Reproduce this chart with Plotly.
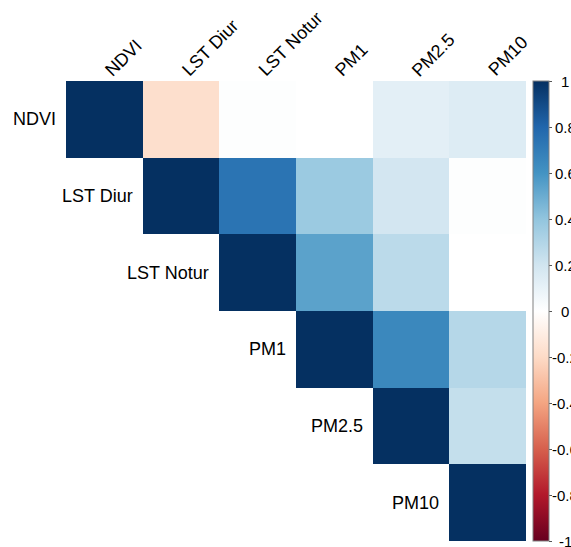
import plotly.graph_objects as go

# Variables in the correlation matrix
variables = ["NDVI", "LST Diur", "LST Notur", "PM1", "PM2.5", "PM10"]

# Upper-triangle correlation coefficients, one list per row (None = lower triangle)
row_ndvi = [1.00, -0.18, 0.01, 0.00, 0.12, 0.15]
row_lst_diur = [None, 1.00, 0.74, 0.37, 0.19, 0.01]
row_lst_notur = [None, None, 1.00, 0.54, 0.27, 0.00]
row_pm1 = [None, None, None, 1.00, 0.65, 0.29]
row_pm25 = [None, None, None, None, 1.00, 0.24]
row_pm10 = [None, None, None, None, None, 1.00]

# Colour legend tick values and their labels
cbar_ticks = [1, 0.8, 0.6, 0.4, 0.2, 0, -0.2, -0.4, -0.6, -0.8, -1]
cbar_labels = ["1", "0.8", "0.6", "0.4", "0.2", "0", "-0.2", "-0.4", "-0.6", "-0.8", "-1"]

z = [row_ndvi, row_lst_diur, row_lst_notur, row_pm1, row_pm25, row_pm10]

# Diverging red-white-blue palette
rdbu = ["#67001F", "#B2182B", "#D6604D", "#F4A582", "#FDDBC7", "#FFFFFF",
        "#D1E5F0", "#92C5DE", "#4393C3", "#2166AC", "#053061"]
colorscale = [[i / (len(rdbu) - 1), c] for i, c in enumerate(rdbu)]

FONT = "Liberation Sans, Arial, sans-serif"
W, H = 571, 547
ML, MR, MT, MB = 66, 45, 81, 6
plot_w = W - ML - MR

n = len(variables)
fig = go.Figure(go.Heatmap(
    z=z,
    x=list(range(n)),
    y=list(range(n)),
    zmin=-1, zmax=1,
    colorscale=colorscale,
    hoverongaps=False,
    colorbar=dict(
        x=(533 - ML) / plot_w, xanchor="left",
        y=0.5, yanchor="middle",
        len=1.0, lenmode="fraction",
        thickness=16,
        outlinewidth=1, outlinecolor="#808080",
        ticks="outside", ticklen=3, tickcolor="#555555", tickwidth=1,
        tickvals=cbar_ticks,
        showticklabels=False,
        xpad=0, ypad=0,
    ),
))

annotations = []
# Row labels on the left of the diagonal cells
for i, name in enumerate(variables):
    annotations.append(dict(
        x=i - 0.5, y=i, xref="x", yref="y",
        text=name, showarrow=False, xanchor="right", yanchor="middle",
        xshift=-8, font=dict(family=FONT, size=18, color="black"),
    ))
# Column labels along the top, rotated
for j, name in enumerate(variables):
    annotations.append(dict(
        x=j, y=-0.5, xref="x", yref="y",
        text=name, showarrow=False, textangle=-45,
        xanchor="left", yanchor="bottom",
        xshift=-6, yshift=-2,
        font=dict(family=FONT, size=18, color="black"),
    ))
# Colour legend labels
for v, lab in zip(cbar_ticks, cbar_labels):
    annotations.append(dict(
        x=(565 - ML) / plot_w, y=(v + 1) / 2, xref="paper", yref="paper",
        text=lab, showarrow=False, xanchor="center", yanchor="middle",
        font=dict(family=FONT, size=15, color="black"),
    ))

fig.update_layout(
    width=W, height=H,
    margin=dict(l=ML, r=MR, t=MT, b=MB, pad=0),
    paper_bgcolor="white", plot_bgcolor="white",
    xaxis=dict(range=[-0.5, n - 0.5], showgrid=False, zeroline=False,
               showticklabels=False, ticks="", fixedrange=True),
    yaxis=dict(range=[n - 0.5, -0.5], showgrid=False, zeroline=False,
               showticklabels=False, ticks="", fixedrange=True),
    annotations=annotations,
    showlegend=False,
)

fig.write_html("out.html")
